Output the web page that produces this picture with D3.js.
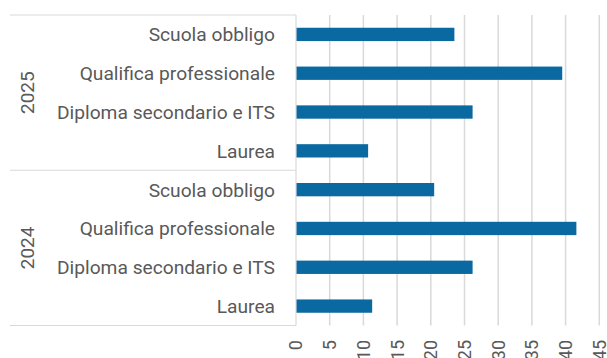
<!DOCTYPE html>
<html>
<head>
<meta charset="utf-8">
<script src="https://cdn.jsdelivr.net/npm/d3@7"></script>
<style>
  html, body { margin: 0; padding: 0; background: #ffffff; }
  svg { display: block; }
  text { font-family: Roboto, "Liberation Sans", sans-serif; fill: #595959; }
</style>
</head>
<body>
<svg id="chart" width="607" height="358"></svg>
<script>
// Groups (top to bottom) and categories within each group
const years = ["2025", "2024"];
const categories = ["Scuola obbligo", "Qualifica professionale", "Diploma secondario e ITS", "Laurea"];
const values2025 = [23.5, 39.5, 26.2, 10.7];
const values2024 = [20.5, 41.6, 26.2, 11.3];
const xTicks = [0, 5, 10, 15, 20, 25, 30, 35, 40, 45];

const seriesByYear = { "2025": values2025, "2024": values2024 };

const rows = [];
years.forEach(y => categories.forEach((c, i) => rows.push({ year: y, cat: c, key: y + "|" + c, value: seriesByYear[y][i] })));

const svg = d3.select("#chart");
const plot = { left: 296, right: 599.3, top: 15, bottom: 325.5 };
const groupLeft = 10;

const x = d3.scaleLinear().domain([0, 45]).range([plot.left, plot.right]);
const y = d3.scaleBand().domain(rows.map(r => r.key)).range([plot.top, plot.bottom])
  .paddingInner(0.657).paddingOuter(0.657 / 2);
const step = y.step();

// Vertical gridlines
svg.append("g").selectAll("line").data(xTicks.filter(t => t > 0)).join("line")
  .attr("x1", d => x(d)).attr("x2", d => x(d))
  .attr("y1", plot.top).attr("y2", plot.bottom)
  .attr("stroke", "#d9d9d9").attr("stroke-width", 1.5);

// Bars
svg.append("g").selectAll("rect").data(rows).join("rect")
  .attr("x", x(0))
  .attr("y", d => y(d.key))
  .attr("width", d => x(d.value) - x(0))
  .attr("height", y.bandwidth())
  .attr("fill", "#0a69a1");

// Category axis line
svg.append("line")
  .attr("x1", x(0)).attr("x2", x(0))
  .attr("y1", plot.top).attr("y2", plot.bottom)
  .attr("stroke", "#d9d9d9").attr("stroke-width", 1.2);

// Group separators
const groupEdges = [plot.top];
years.forEach(yr => groupEdges.push(y(yr + "|" + categories[categories.length - 1]) + y.bandwidth() + step * 0.657 / 2));
svg.append("g").selectAll("line").data(groupEdges).join("line")
  .attr("x1", groupLeft).attr("x2", x(0))
  .attr("y1", d => d).attr("y2", d => d)
  .attr("stroke", "#d9d9d9").attr("stroke-width", 1.2);

// Category labels
svg.append("g").selectAll("text").data(rows).join("text")
  .attr("x", 275)
  .attr("y", d => y(d.key) + y.bandwidth() / 2)
  .attr("dy", "0.36em")
  .attr("text-anchor", "end")
  .style("font-size", "19.2px")
  .text(d => d.cat);

// Year labels, rotated
svg.append("g").selectAll("text").data(years).join("text")
  .attr("transform", (d, i) => {
    const cy = (groupEdges[i] + groupEdges[i + 1]) / 2;
    return `translate(27,${cy}) rotate(-90)`;
  })
  .attr("text-anchor", "middle")
  .attr("dy", "0.36em")
  .style("font-size", "19px")
  .text(d => d);

// Value axis tick labels, rotated
svg.append("g").selectAll("text").data(xTicks).join("text")
  .attr("transform", d => `translate(${x(d)},340) rotate(-90)`)
  .attr("text-anchor", "end")
  .attr("dy", "0.36em")
  .style("font-size", "18px")
  .text(d => d);
</script>
</body>
</html>
